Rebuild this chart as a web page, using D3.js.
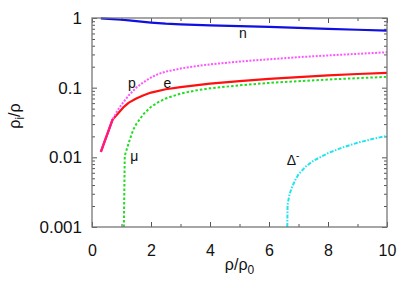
<!DOCTYPE html>
<html>
<head>
<meta charset="utf-8">
<script src="https://cdn.jsdelivr.net/npm/d3@7"></script>
<style>
body { margin: 0; background: #fff; }
text { font-family: "Liberation Sans", Arial, sans-serif; fill: #111; }
</style>
</head>
<body>
<script>
// fractions
var nX = [0.3, 0.7, 1.0, 1.25, 1.5, 1.75, 2, 2.5, 3, 3.5, 4, 5, 6, 7, 8, 9, 10],
nY = [0.988, 0.965, 0.943, 0.922, 0.9, 0.88, 0.86, 0.83, 0.812, 0.797, 0.784, 0.763, 0.744, 0.722, 0.7, 0.678, 0.658];

var pX = [0.3, 0.7, 0.85, 1.0, 1.25, 1.5, 1.75, 2, 2.25, 2.5, 3, 3.5, 4, 5, 6, 7, 8, 9, 10],
pY = [0.012, 0.035, 0.046, 0.057, 0.078, 0.1, 0.12, 0.14, 0.157, 0.17, 0.188, 0.203, 0.216, 0.237, 0.256, 0.274, 0.29, 0.306, 0.322];

var eX = [0.3, 0.7, 1.06, 1.25, 1.5, 1.75, 2, 2.5, 3, 3.5, 4, 5, 6, 7, 8, 9, 10],
eY = [0.012, 0.035, 0.052, 0.061, 0.07, 0.078, 0.085, 0.095, 0.102, 0.108, 0.114, 0.124, 0.134, 0.142, 0.15, 0.157, 0.163];

var muX = [1.08, 1.11, 1.2, 1.3, 1.4, 1.5, 1.75, 2, 2.25, 2.5, 3, 3.5, 4, 5, 6, 7, 8, 9, 10],
muY = [0.001, 0.0105, 0.014, 0.019, 0.025, 0.03, 0.042, 0.053, 0.062, 0.07, 0.082, 0.091, 0.098, 0.108, 0.117, 0.124, 0.131, 0.137, 0.143];

var dX = [6.62, 6.63, 6.7, 6.8, 6.9, 7, 7.25, 7.5, 8, 8.5, 9, 9.5, 10],
dY = [0.001, 0.0021, 0.003, 0.0039, 0.0048, 0.0057, 0.0074, 0.0089, 0.0115, 0.0139, 0.0162, 0.0183, 0.0204];

var xTicks = [0, 2, 4, 6, 8, 10],
xMinor = [1, 3, 5, 7, 9],
yTicks = [0.001, 0.01, 0.1, 1],
yTickLabels = ["0.001", "0.01", "0.1", "1"];

var margin = {top: 18, right: 28, bottom: 64, left: 92},
width = 415 - margin.left - margin.right,
height = 291 - margin.top - margin.bottom;

var svg = d3.select("body").append("svg")
    .attr("width", 415)
    .attr("height", 291);

var g = svg.append("g")
    .attr("transform", "translate(" + margin.left + "," + margin.top + ")");

var x = d3.scaleLinear().domain([0, 10]).range([0, width]);
var y = d3.scaleLog().domain([0.001, 1]).range([height, 0]);

var yMinor = [];
yTicks.slice(0, 3).forEach(function(d) {
    for (let k = 2; k < 10; k++) yMinor.push(d * k);
});

function styleAxis(sel) {
    sel.select(".domain").remove();
    sel.selectAll("line").attr("stroke", "#555").attr("stroke-width", 1);
    sel.selectAll("text").style("font-size", "16px").attr("fill", "#111");
}

// bottom & top
g.append("g").attr("transform", "translate(0," + height + ")")
    .call(d3.axisBottom(x).tickValues(xTicks).tickSize(-5).tickPadding(10).tickFormat(d3.format("d")))
    .call(styleAxis)
    .selectAll("text").attr("dy", "1.2em");
g.append("g").attr("transform", "translate(0," + height + ")")
    .call(d3.axisBottom(x).tickValues(xMinor).tickSize(-3).tickFormat(""))
    .call(styleAxis);
g.append("g")
    .call(d3.axisTop(x).tickValues(xTicks).tickSize(-5).tickFormat(""))
    .call(styleAxis);
g.append("g")
    .call(d3.axisTop(x).tickValues(xMinor).tickSize(-3).tickFormat(""))
    .call(styleAxis);

// left & right
g.append("g")
    .call(d3.axisLeft(y).tickValues(yTicks).tickSize(-5).tickPadding(10)
        .tickFormat(function(d, i) { return yTickLabels[i]; }))
    .call(styleAxis)
    .selectAll("text").style("font-size", "17px");
g.append("g")
    .call(d3.axisLeft(y).tickValues(yMinor).tickSize(-3).tickFormat(""))
    .call(styleAxis);
g.append("g").attr("transform", "translate(" + width + ",0)")
    .call(d3.axisRight(y).tickValues(yTicks).tickSize(-5).tickFormat(""))
    .call(styleAxis);
g.append("g").attr("transform", "translate(" + width + ",0)")
    .call(d3.axisRight(y).tickValues(yMinor).tickSize(-3).tickFormat(""))
    .call(styleAxis);

// curves
var line = d3.line()
    .x(function(d) { return x(d[0]); })
    .y(function(d) { return y(d[1]); });

function pairs(xs, ys) { return xs.map(function(v, i) { return [v, ys[i]]; }); }

var series = [
    {data: pairs(nX, nY), color: "#1010e0", dash: null, w: 2.2},
    {data: pairs(eX, eY), color: "#ff1010", dash: null, w: 2.2},
    {data: pairs(pX, pY), color: "#ff55ff", dash: "2,1.5", w: 2},
    {data: pairs(muX, muY), color: "#22dd22", dash: "2.5,2", w: 2},
    {data: pairs(dX, dY), color: "#22e4ee", dash: "4,1.5,1.5,1.5", w: 2}
];

g.selectAll(".curve")
    .data(series)
    .enter().append("path")
    .attr("class", "curve")
    .attr("fill", "none")
    .attr("stroke-linejoin", "round")
    .attr("stroke", function(d) { return d.color; })
    .attr("stroke-width", function(d) { return d.w; })
    .attr("stroke-dasharray", function(d) { return d.dash; })
    .attr("d", function(d) { return line(d.data); });

// red overlapping the pink at low density
g.append("path")
    .attr("fill", "none")
    .attr("stroke", "#ff1a80")
    .attr("stroke-width", 2.2)
    .attr("d", line(pairs(eX.slice(0, 2), eY.slice(0, 2))));

// frame
g.append("rect")
    .attr("width", width).attr("height", height)
    .attr("fill", "none").attr("stroke", "#777").attr("stroke-width", 1.3);

// curve labels
var labels = g.append("g").style("font-size", "14px");
labels.append("text").attr("x", x(4.98)).attr("y", y(0.52)).text("n");
labels.append("text").attr("x", x(1.22)).attr("y", y(0.1)).text("p");
labels.append("text").attr("x", x(2.42)).attr("y", y(0.1)).text("e");
labels.append("text").attr("x", x(1.3)).attr("y", y(0.0088)).text("μ");
var dl = labels.append("text").attr("x", x(6.6)).attr("y", y(0.0078));
dl.append("tspan").text("Δ");
dl.append("tspan").attr("dy", -6).style("font-size", "10px").text("-");

// axis titles
var xt = svg.append("text")
    .attr("x", margin.left + x(5))
    .attr("y", 270)
    .attr("text-anchor", "middle")
    .style("font-size", "16px");
xt.append("tspan").text("ρ/ρ");
xt.append("tspan").attr("dy", 4).style("font-size", "12px").text("0");

var yt = svg.append("text")
    .attr("transform", "translate(20,116) rotate(-90)")
    .attr("text-anchor", "middle")
    .style("font-size", "16px");
yt.append("tspan").text("ρ");
yt.append("tspan").attr("dy", 4).style("font-size", "12px").text("i");
yt.append("tspan").attr("dy", -4).text("/ρ");
</script>
</body>
</html>
